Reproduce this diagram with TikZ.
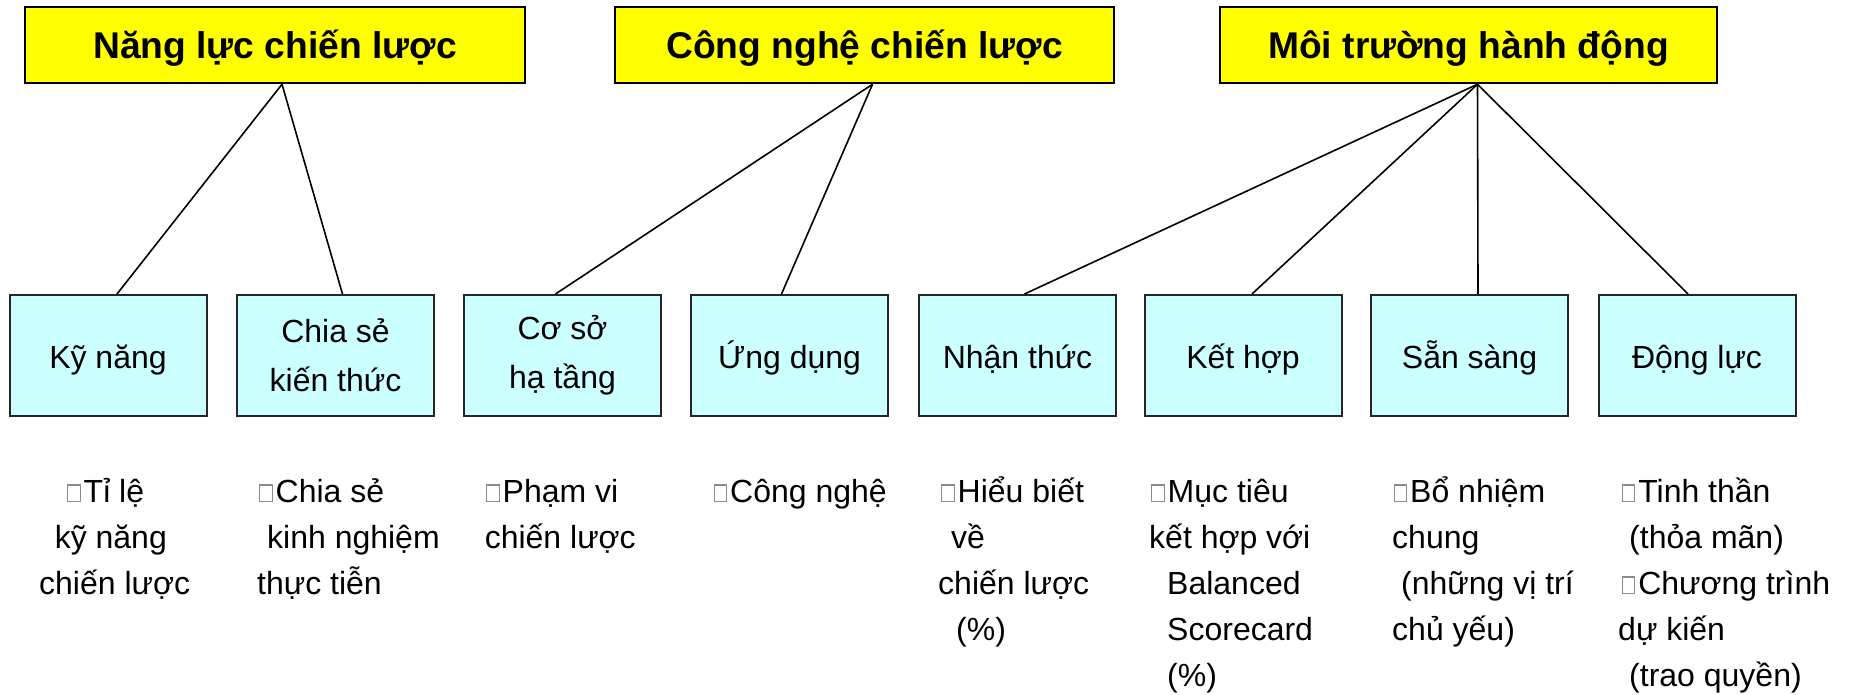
\documentclass[tikz,border=0pt]{standalone}
\usepackage{fontspec}
\setmainfont{Liberation Sans}
\usepackage{xcolor}
\definecolor{headyellow}{HTML}{FFFF00}
\definecolor{leafcyan}{HTML}{CCFFFF}
% small hollow bullet square in front of each item
\newcommand{\sqbul}{\tikz[baseline=0pt]\draw[line width=1.1pt, black!45] (0.6pt,0.6pt) rectangle (13pt,17pt);\hspace{3pt}}
\tikzset{
  headbox/.style={draw=black, line width=2.5pt, fill=headyellow, minimum height=76pt,
    inner sep=0pt, text height=37pt, text depth=9pt,
    font=\fontsize{37.2}{44}\selectfont\bfseries},
  leafbox/.style={draw=black!85, line width=2pt, fill=leafcyan, minimum width=197pt,
    minimum height=121pt, inner sep=0pt, font=\fontsize{32}{49}\selectfont},
  leafone/.style={leafbox, text height=32pt, text depth=7pt},
  leaftwo/.style={leafbox, align=center},
  conn/.style={draw=black, line width=1.6pt},
  itemtext/.style={anchor=base west, inner sep=0pt, font=\fontsize{32}{46}\selectfont}
}
\begin{document}
\begin{tikzpicture}[x=1pt, y=-1pt]
\useasboundingbox (0,0) rectangle (1854,695);

% top-level headings
\node[headbox, minimum width=500pt] (p1) at (275,45)    {Năng lực chiến lược};
\node[headbox, minimum width=499pt] (p2) at (864.5,45)  {Công nghệ chiến lược};
\node[headbox, minimum width=497pt] (p3) at (1468.5,45) {Môi trường hành động};

% second-level boxes
\node[leafone] (k1) at (108,355.5)    {Kỹ năng};
\node[leaftwo] (k2) at (335.5,355.5)  {Chia sẻ\\kiến thức};
\node[leaftwo] (k3) at (562.5,355.5)  {Cơ sở\\hạ tầng};
\node[leafone] (k4) at (789.5,355.5)  {Ứng dụng};
\node[leafone] (k5) at (1017.5,355.5) {Nhận thức};
\node[leafone] (k6) at (1243,355.5)   {Kết hợp};
\node[leafone] (k7) at (1469.5,355.5) {Sẵn sàng};
\node[leafone] (k8) at (1697,355.5)   {Động lực};

% connectors
\draw[conn] ([xshift=7pt]p1.south) -- ([xshift=9pt]k1.north);
\draw[conn] ([xshift=7pt]p1.south) -- ([xshift=7pt]k2.north);
\draw[conn] ([xshift=8pt]p2.south) -- ([xshift=-7pt]k3.north);
\draw[conn] ([xshift=8pt]p2.south) -- ([xshift=-8pt]k4.north);
\draw[conn] ([xshift=9pt]p3.south) -- ([xshift=7pt]k5.north);
\draw[conn] ([xshift=9pt]p3.south) -- ([xshift=9pt]k6.north);
\draw[conn] ([xshift=9pt]p3.south) -- ([xshift=8.5pt]k7.north);
\draw[conn] ([xshift=9pt]p3.south) -- ([xshift=-9pt]k8.north);

% measures under each box
\foreach \px/\py/\txt [count=\i] in {
  67/502/{\sqbul Tỉ lệ}, 54.6/548/{kỹ năng}, 39/594/{chiến lược},
  259/502/{\sqbul Chia sẻ}, 267/548/{kinh nghiệm}, 257/594/{thực tiễn},
  486/502/{\sqbul Phạm vi}, 484.6/548/{chiến lược},
  713.5/502/{\sqbul Công nghệ},
  941/502/{\sqbul Hiểu biết}, 951/548/{về}, 938/594/{chiến lược}, 956/640/{(\%)},
  1151/502/{\sqbul Mục tiêu}, 1149/548/{kết hợp với}, 1167/594/{Balanced}, 1167/640/{Scorecard}, 1167/686/{(\%)},
  1393.5/502/{\sqbul Bổ nhiệm}, 1392/548/{chung}, 1401/594/{(những vị trí}, 1392/640/{chủ yếu)},
  1621.6/502/{\sqbul Tinh thần}, 1629/548/{(thỏa mãn)}, 1621.6/594/{\sqbul Chương trình}, 1618/640/{dự kiến}, 1629/686/{(trao quyền)}
}{
  \node[itemtext] (m\i) at (\px,\py) {\txt};
}
\end{tikzpicture}
\end{document}
